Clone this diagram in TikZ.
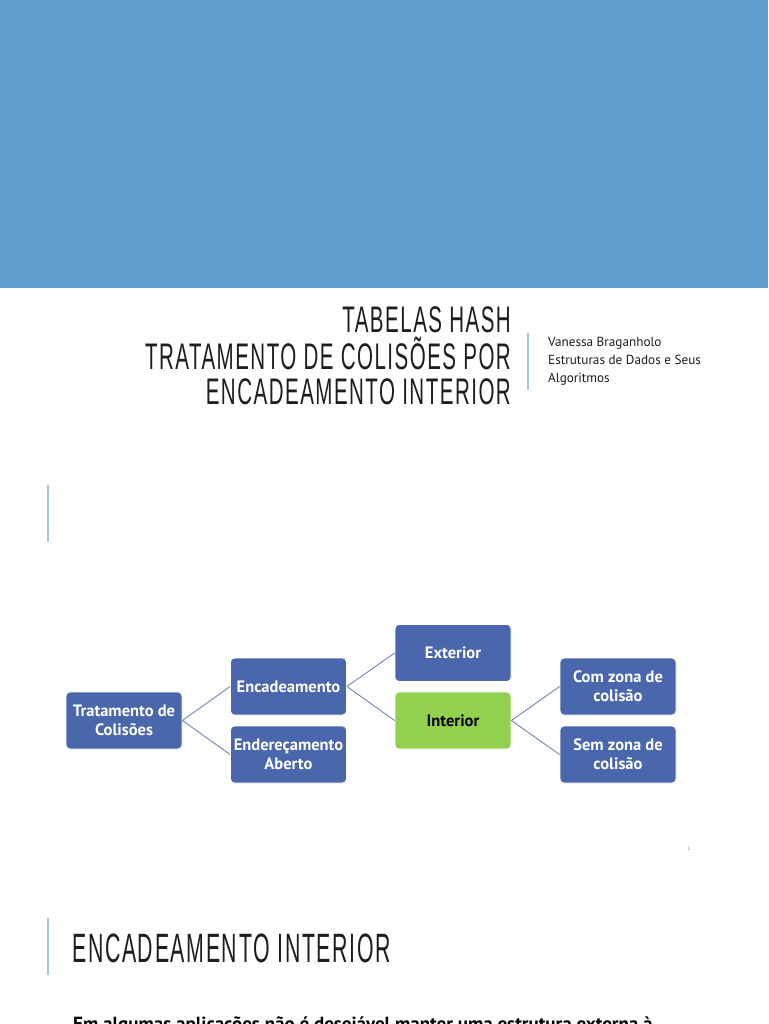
\documentclass[tikz,border=0pt]{standalone}
\usepackage{fontspec}
\setmainfont{Liberation Sans}
\newfontfamily\titlefont[FakeStretch=0.555,LetterSpace=4]{Liberation Sans}
\newfontfamily\headfont[FakeStretch=0.52,LetterSpace=4]{Liberation Sans}
\newfontfamily\bodyfont{PT Sans}
\newfontfamily\boxfont{PT Sans}
\definecolor{hdr}{HTML}{619DD0}
\definecolor{nodeblue}{HTML}{4A66AC}
\definecolor{nodegreen}{HTML}{92D050}
\definecolor{sepblue}{HTML}{A7C4E0}
\definecolor{linkc}{HTML}{7086B8}
\definecolor{titletext}{HTML}{1E1E1E}
\tikzset{
  box/.style={draw=white, line width=0.8pt, fill=nodeblue, rounded corners=4pt,
    minimum width=116pt, minimum height=57pt, inner sep=1pt, align=center,
    text=white, font=\boxfont\bfseries\fontsize{16.5}{19}\selectfont},
  greenbox/.style={box, fill=nodegreen, text=black},
  link/.style={draw=linkc, line width=0.9pt},
  sepline/.style={draw=sepblue, line width=1.6pt},
  titletxt/.style={anchor=base east, inner sep=0pt, text=titletext,
    font=\titlefont\fontsize{37}{37}\selectfont},
  authortxt/.style={anchor=base west, inner sep=0pt, text=titletext,
    font=\bodyfont\fontsize{13.2}{13}\selectfont}
}
\begin{document}
\begin{tikzpicture}[x=1pt,y=-1pt]
\useasboundingbox (0,0) rectangle (768,1024);
\fill[white] (0,0) rectangle (768,1024);
% header band
\fill[hdr] (0,0) rectangle (768,288);
% title
\node[titletxt] (t1) at (511,332) {TABELAS HASH};
\node[titletxt] (t2) at (511,369) {TRATAMENTO DE COLISÕES POR};
\node[titletxt] (t3) at (511,404) {ENCADEAMENTO INTERIOR};
\draw[sepline] (528,333) -- (528,390);
\node[authortxt] (a1) at (548,346) {Vanessa Braganholo};
\node[authortxt] (a2) at (548,364) {Estruturas de Dados e Seus};
\node[authortxt] (a3) at (548,382) {Algoritmos};
% slide 2
\draw[sepline] (48,485) -- (48,542);
\node[box] (trat) at (124,720.5) {Tratamento de\\Colisões};
\node[box] (enc) at (288.5,686.5) {Encadeamento};
\node[box] (end) at (288.5,754.5) {Endereçamento\\Aberto};
\node[box] (ext) at (453,653) {Exterior};
\node[greenbox] (int) at (453,720.5) {Interior};
\node[box] (com) at (618,686.5) {Com zona de\\colisão};
\node[box] (sem) at (618,754.5) {Sem zona de\\colisão};
\draw[link] (trat.east) -- (enc.west);
\draw[link] (trat.east) -- (end.west);
\draw[link] (enc.east) -- (ext.west);
\draw[link] (enc.east) -- (int.west);
\draw[link] (int.east) -- (com.west);
\draw[link] (int.east) -- (sem.west);
\node[inner sep=0pt, text=gray, font=\bodyfont\fontsize{5}{5}\selectfont] (num) at (689,849) {1};
% slide 3
\draw[sepline] (48,918) -- (48,975);
\node[anchor=base west, inner sep=0pt, text=titletext,
  font=\headfont\fontsize{41}{41}\selectfont] (h3) at (72,962) {ENCADEAMENTO INTERIOR};
\node[anchor=base west, inner sep=0pt, text=black,
  font=\bodyfont\bfseries\fontsize{19}{19}\selectfont] (body) at (73,1030) {Em algumas aplicações não é desejável manter uma estrutura externa à};
\end{tikzpicture}
\end{document}
